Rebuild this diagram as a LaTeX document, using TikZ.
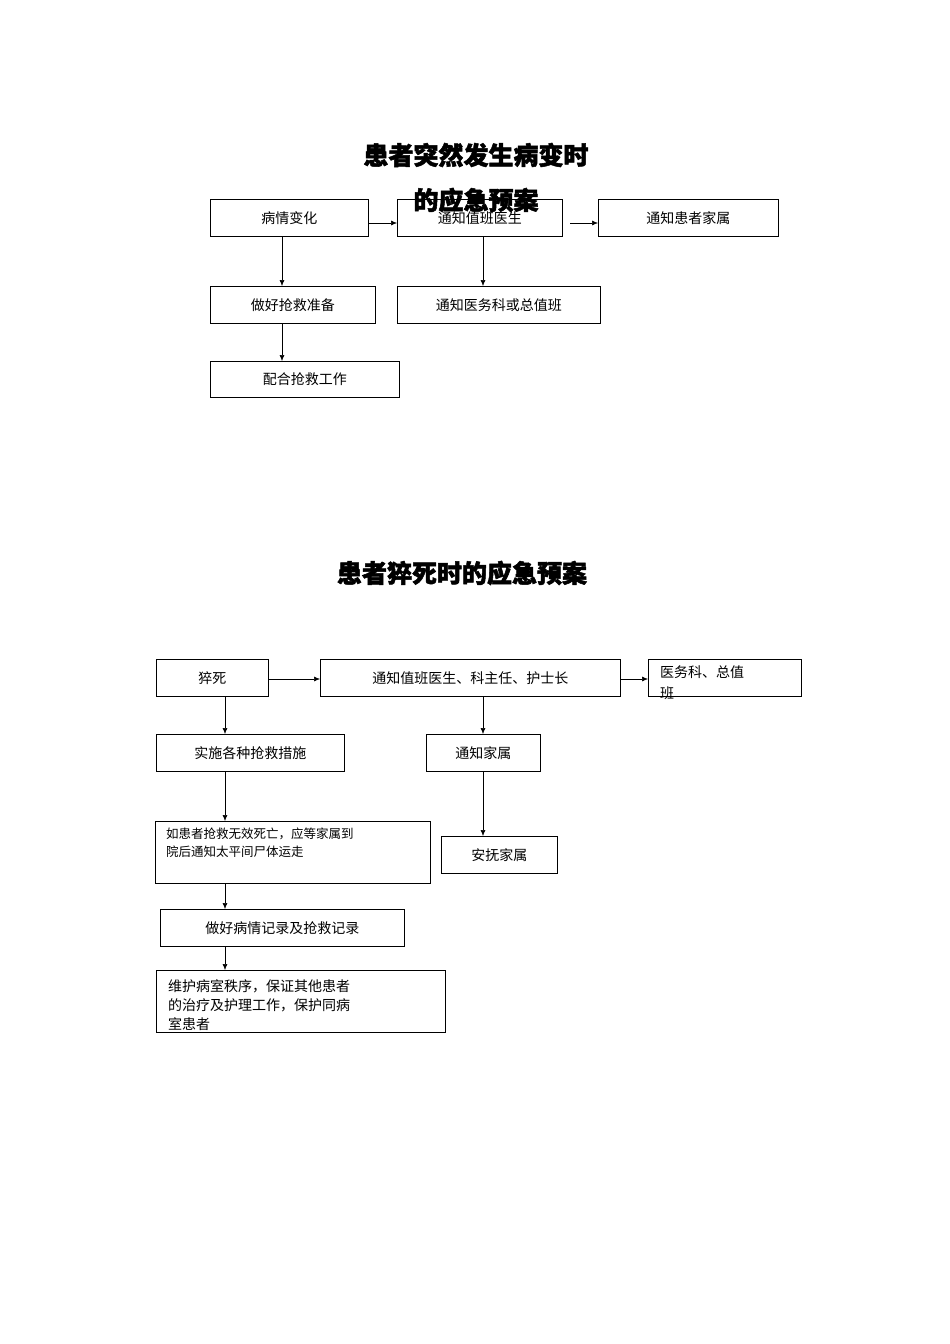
\documentclass[tikz,border=0pt]{standalone}
\usepackage{fontspec}
\usetikzlibrary{arrows.meta}
\setmainfont{Noto Sans CJK SC}
\newfontfamily\cjkb[FakeBold=2]{Noto Sans CJK SC}
\begin{document}
\begin{tikzpicture}[x=1pt,y=-1pt,
 bx/.style={draw,line width=0.6pt,anchor=north west,inner sep=0pt,font=\fontsize{14}{17}\selectfont},
 ar/.style={-{Latex[length=6pt,width=5pt]},line width=0.6pt},
 ttl/.style={font=\fontsize{25}{30}\cjkb\bfseries}]
\useasboundingbox (0,0) rectangle (950,1344);
\node[ttl] (t1) at (476,155) {患者突然发生病变时};
\node[ttl] (t1b) at (476,200) {的应急预案};
\node[bx,minimum width=158,minimum height=37] (a) at (210,199) {};
\node[font=\fontsize{14}{17}\selectfont] at (a.center) {病情变化};
\node[bx,minimum width=165,minimum height=37] (b) at (397,199) {};
\node[font=\fontsize{14}{17}\selectfont] at (b.center) {通知值班医生};
\node[bx,minimum width=180,minimum height=37] (c) at (598,199) {};
\node[font=\fontsize{14}{17}\selectfont] at (c.center) {通知患者家属};
\node[bx,minimum width=165,minimum height=37] (d) at (210,286) {};
\node[font=\fontsize{14}{17}\selectfont] at (d.center) {做好抢救准备};
\node[bx,minimum width=203,minimum height=37] (e) at (397,286) {};
\node[font=\fontsize{14}{17}\selectfont] at (e.center) {通知医务科或总值班};
\node[bx,minimum width=189,minimum height=36] (f) at (210,361) {};
\node[font=\fontsize{14}{17}\selectfont] at (f.center) {配合抢救工作};
\draw[ar] (a.east|-0,223) -- (b.west|-0,223);
\draw[ar] (570,223) -- (c.west|-0,223);
\draw[ar] (282,236) -- (282,286);
\draw[ar] (483,236) -- (483,286);
\draw[ar] (282,323) -- (282,361);
\node[ttl] (t2) at (462,573) {患者猝死时的应急预案};
\node[bx,minimum width=112,minimum height=37] (g) at (156,659) {};
\node[font=\fontsize{14}{17}\selectfont] at (g.center) {猝死};
\node[bx,minimum width=300,minimum height=37] (h) at (320,659) {};
\node[font=\fontsize{14}{17}\selectfont] at (h.center) {通知值班医生、科主任、护士长};
\node[bx,minimum width=153,minimum height=37] (i) at (648,659) {};
\node[anchor=north west,font=\fontsize{14}{17}\selectfont,align=left,inner sep=0pt] at (660,666) {医务科、总值\\[4pt]班};
\node[bx,minimum width=188,minimum height=37] (j) at (156,734) {};
\node[font=\fontsize{14}{17}\selectfont] at (j.center) {实施各种抢救措施};
\node[bx,minimum width=114,minimum height=37] (k) at (426,734) {};
\node[font=\fontsize{14}{17}\selectfont] at (k.center) {通知家属};
\node[bx,minimum width=275,minimum height=62] (l) at (155,821) {};
\node[anchor=north west,font=\fontsize{12.5}{15}\selectfont,align=left,inner sep=0pt] at (166,828) {如患者抢救无效死亡，应等家属到\\[3pt]院后通知太平间尸体运走};
\node[bx,minimum width=116,minimum height=37] (m) at (441,836) {};
\node[font=\fontsize{14}{17}\selectfont] at (m.center) {安抚家属};
\node[bx,minimum width=244,minimum height=37] (n) at (160,909) {};
\node[font=\fontsize{14}{17}\selectfont] at (n.center) {做好病情记录及抢救记录};
\node[bx,minimum width=289,minimum height=62] (o) at (156,970) {};
\node[anchor=north west,font=\fontsize{14}{17}\selectfont,align=left,inner sep=0pt] at (168,979) {维护病室秩序，保证其他患者\\[2pt]的治疗及护理工作，保护同病\\[2pt]室患者};
\draw[ar] (268,679) -- (320,679);
\draw[ar] (620,679) -- (648,679);
\draw[ar] (225,696) -- (225,734);
\draw[ar] (483,696) -- (483,734);
\draw[ar] (225,771) -- (225,821);
\draw[ar] (483,771) -- (483,836);
\draw[ar] (225,883) -- (225,909);
\draw[ar] (225,946) -- (225,970);
\end{tikzpicture}
\end{document}
